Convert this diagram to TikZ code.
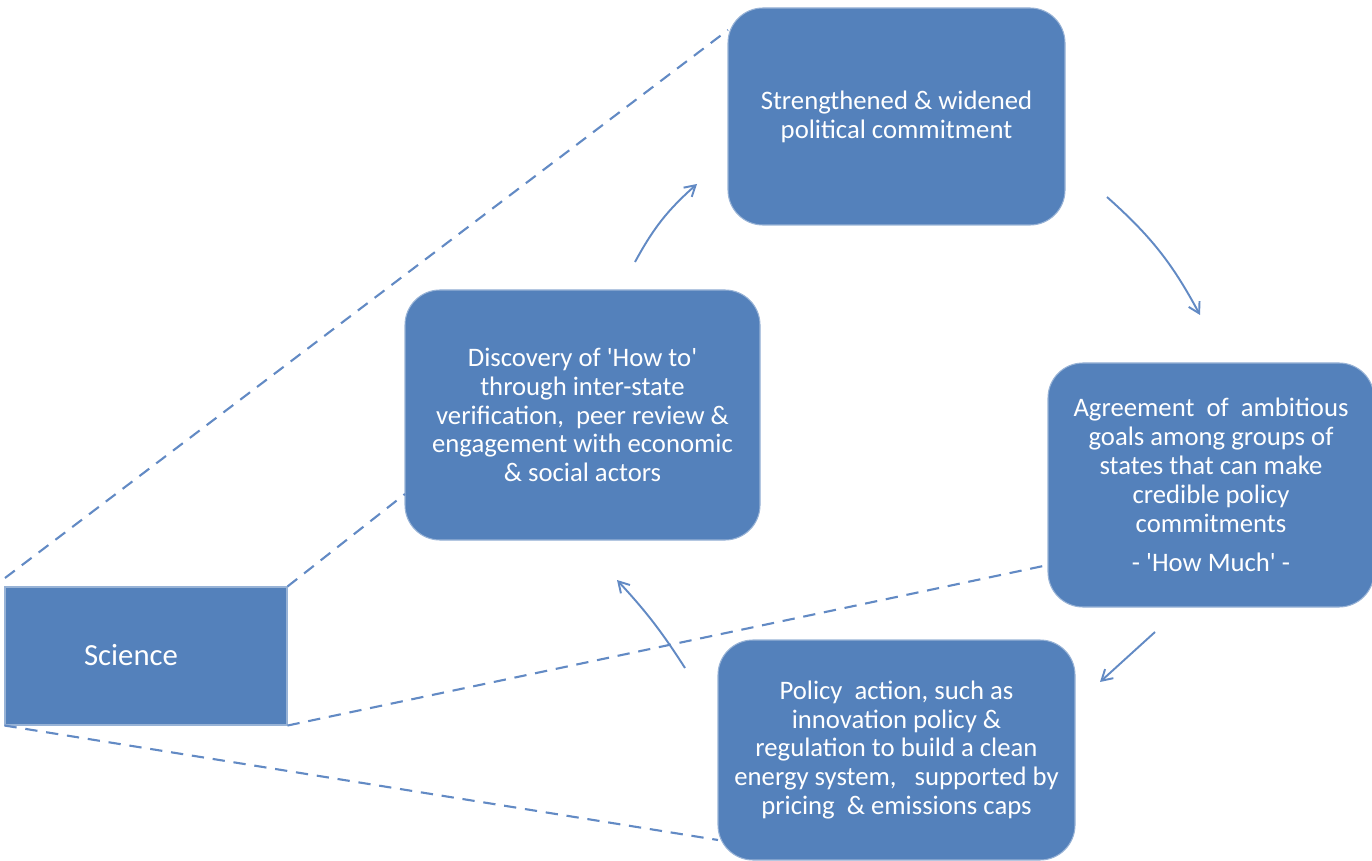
\documentclass[tikz,border=0pt]{standalone}
\usepackage{fontspec}
\setmainfont{Carlito}
\usetikzlibrary{arrows.meta}
\definecolor{boxblue}{RGB}{84,129,187}
\definecolor{lineblue}{RGB}{98,138,196}
\begin{document}
\begin{tikzpicture}[x=0.02cm,y=-0.02cm,
  rbox/.style={fill=boxblue,draw=boxblue!60!white,line width=0.6pt,rounded corners=0.7cm,text=white,align=center,
    font=\fontsize{15.2}{16.4}\selectfont,inner sep=0pt},
  dashline/.style={draw=lineblue,dashed,dash pattern=on 7pt off 5pt,line width=1.2pt},
  cyc/.style={draw=lineblue,line width=1.1pt,-{Straight Barb[length=6pt,width=7pt]}}]
\useasboundingbox (0,0) rectangle (1372,861);
% boxes
\node[rbox,minimum width=337*0.02cm,minimum height=217*0.02cm] (top) at (896.5,116.5)
  {Strengthened \& widened\\political commitment};
\node[rbox,minimum width=355*0.02cm,minimum height=250*0.02cm] (disc) at (582.5,415)
  {Discovery of \textquotesingle How to\textquotesingle\\through inter-state\\verification,\ \ peer review \&\\engagement with economic\\\& social actors};
\node[rbox,minimum width=326*0.02cm,minimum height=244*0.02cm] (agr) at (1211,485)
  {Agreement\ \ of\ \ ambitious\\goals among groups of\\states that can make\\credible policy\\commitments\\[6pt]- \textquotesingle How Much\textquotesingle\ -};
\node[rbox,minimum width=357*0.02cm,minimum height=220*0.02cm] (pol) at (896.5,750)
  {Policy\ \ action, such as\\innovation policy \&\\regulation to build a clean\\energy system,\ \ \ supported by\\pricing\ \ \& emissions caps};
\node[fill=boxblue,draw=boxblue!60!white,line width=0.6pt,minimum width=282*0.02cm,minimum height=138*0.02cm,inner sep=0pt] (sci) at (146,656) {};
\node[text=white,font=\fontsize{17.5}{20}\selectfont] (scit) at (131,655) {Science};
% dashed lines
\coordinate (s1) at (5,578);
\coordinate (t1) at (728,30);
\coordinate (d1) at (405,494);
\coordinate (a1) at (1048,565);
\coordinate (p1) at (718,840);
\draw[dashline] (s1) -- (t1);
\draw[dashline] (sci.north east) -- (d1);
\draw[dashline] (sci.south east) -- (a1);
\draw[dashline] (sci.south west) -- (p1);
% cycle arrows
\coordinate (c1s) at (635,262); \coordinate (c1e) at (697,184);
\coordinate (c2s) at (1107,197); \coordinate (c2e) at (1200,315);
\coordinate (c3s) at (1155,632); \coordinate (c3e) at (1100,682);
\coordinate (c4s) at (685,668); \coordinate (c4e) at (617,580);
\draw[cyc] (c1s) to[bend left=10] (c1e);
\draw[cyc] (c2s) to[bend left=10] (c2e);
\draw[cyc] (c3s) -- (c3e);
\draw[cyc] (c4s) to[bend right=5] (c4e);
\end{tikzpicture}
\end{document}
